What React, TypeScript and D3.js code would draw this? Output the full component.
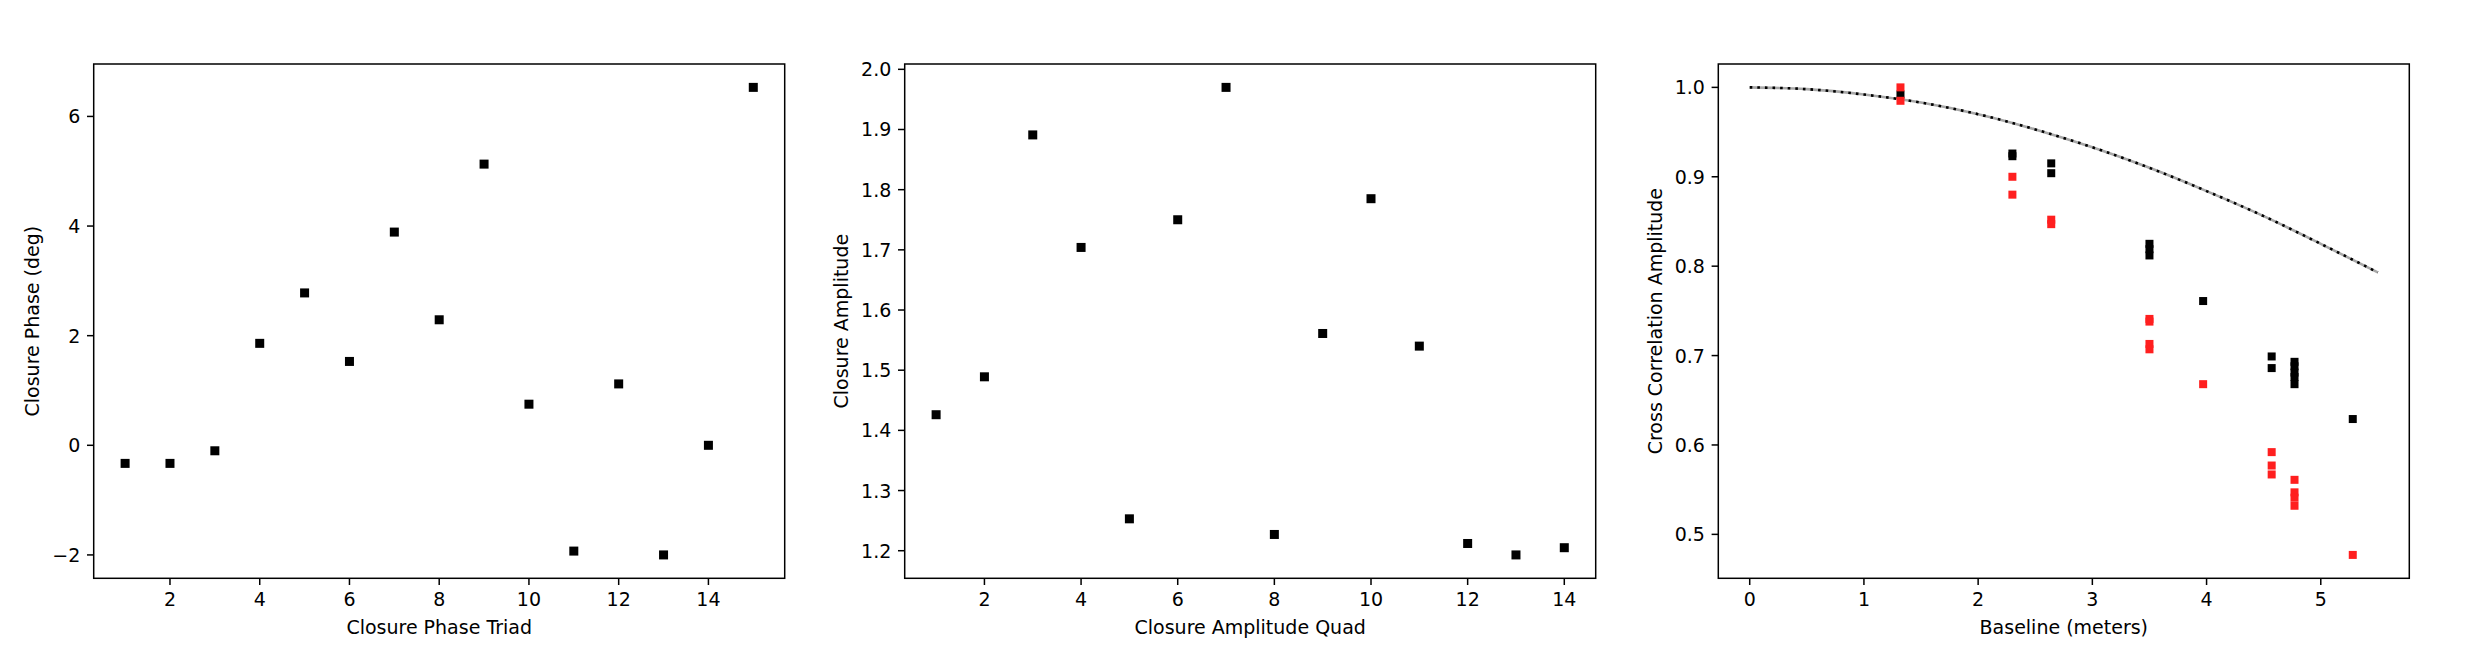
import React from "react"
import * as d3 from "d3"

// closure phase per triad
const triads = [1, 2, 3, 4, 5, 6, 7, 8, 9, 10, 11, 12, 13, 14, 15]
const closurePhase = [-0.33, -0.33, -0.1, 1.86, 2.78, 1.53, 3.89, 2.29, 5.13, 0.75, -1.93, 1.12, -2.0, 0.0, 6.53]
const phaseTicksX = [2, 4, 6, 8, 10, 12, 14]
const phaseTicksY = [-2, 0, 2, 4, 6]

// closure amplitude per quad
const quads = [1, 2, 3, 4, 5, 6, 7, 8, 9, 10, 11, 12, 13, 14]
const closureAmp = [1.426, 1.489, 1.891, 1.704, 1.253, 1.75, 1.97, 1.227, 1.561, 1.785, 1.54, 1.212, 1.193, 1.205]
const ampTicksX = [2, 4, 6, 8, 10, 12, 14]
const ampTicksY = [1.2, 1.3, 1.4, 1.5, 1.6, 1.7, 1.8, 1.9, 2.0]

// cross correlation vs baseline
const blackBase = [1.32, 2.3, 2.3, 2.64, 2.64, 3.5, 3.5, 3.5, 3.97, 4.57, 4.57, 4.77, 4.77, 4.77, 4.77, 4.77, 5.28]
const blackCorr = [0.992, 0.926, 0.923, 0.915, 0.904, 0.825, 0.819, 0.812, 0.761, 0.699, 0.686, 0.693, 0.688, 0.681, 0.676, 0.668, 0.629]
const redBase = [1.32, 1.32, 2.3, 2.3, 2.64, 2.64, 3.5, 3.5, 3.5, 3.5, 3.97, 4.57, 4.57, 4.57, 4.77, 4.77, 4.77, 4.77, 5.28]
const redCorr = [1.0, 0.985, 0.9, 0.88, 0.852, 0.847, 0.741, 0.738, 0.713, 0.707, 0.668, 0.592, 0.577, 0.567, 0.561, 0.547, 0.541, 0.532, 0.477]
const modelBase = [0, 0.5, 1, 1.5, 2, 2.5, 3, 3.5, 4, 4.5, 5, 5.5]
const modelCorr = [1.0, 0.998, 0.992, 0.983, 0.97, 0.953, 0.933, 0.91, 0.884, 0.856, 0.825, 0.793]
const corrTicksX = [0, 1, 2, 3, 4, 5]
const corrTicksY = [0.5, 0.6, 0.7, 0.8, 0.9, 1.0]

const W = 2475
const H = 672
const TOP = 64
const BOTTOM = 578.3
const PW = 691
const FONT = "DejaVu Sans"
const FS = 19
const TICK = 6.7

function padded( vals: number[] ): [number, number] {
  const [a, b] = d3.extent( vals ) as [number, number]
  const m = ( b - a ) * 0.05
  return [a - m, b + m]
}

const minus = ( d: number ) => ( d < 0 ? "\u2212" + Math.abs( d ) : String( d ) )
const oneDec = d3.format( ".1f" )

type Series = { xs: number[]; ys: number[]; color: string }

function Panel( props: {
  left: number
  series: Series[]
  curve?: { xs: number[]; ys: number[] }
  xTicks: number[]
  yTicks: number[]
  fmtX: ( d: number ) => string
  fmtY: ( d: number ) => string
  xLabel: string
  yLabel: string
  yLabelOff: number
  ms: number
} ) {
  const { left, series, curve, xTicks, yTicks, fmtX, fmtY, xLabel, yLabel, yLabelOff, ms } = props
  const allX = series.flatMap( s => s.xs ).concat( curve ? curve.xs : [] )
  const allY = series.flatMap( s => s.ys ).concat( curve ? curve.ys : [] )
  const x = d3.scaleLinear().domain( padded( allX ) ).range( [left, left + PW] )
  const y = d3.scaleLinear().domain( padded( allY ) ).range( [BOTTOM, TOP] )
  const line = d3
    .line<number>()
    .x( ( d, i ) => x( curve!.xs[i] ) )
    .y( d => y( d ) )
    .curve( d3.curveMonotoneX )

  return (
    <g fontFamily={FONT} fontSize={FS} fill="#000">
      {curve && (
        <g fill="none">
          <path d={line( curve.ys ) || ""} stroke="#a8a8a8" strokeWidth={2.6} />
          <path d={line( curve.ys ) || ""} stroke="#000" strokeWidth={2.6} strokeDasharray="2.6,5" />
        </g>
      )}
      {series.map( ( s, si ) => (
        <g key={si} fill={s.color}>
          {s.xs.map( ( v, i ) => (
            <rect key={i} x={x( v ) - ms / 2} y={y( s.ys[i] ) - ms / 2} width={ms} height={ms} />
          ) )}
        </g>
      ) )}
      <rect x={left} y={TOP} width={PW} height={BOTTOM - TOP} fill="none" stroke="#000" strokeWidth={1.5} />
      {xTicks.map( t => (
        <g key={"x" + t}>
          <line x1={x( t )} x2={x( t )} y1={BOTTOM} y2={BOTTOM + TICK} stroke="#000" strokeWidth={1.5} />
          <text x={x( t )} y={BOTTOM + 28} textAnchor="middle">
            {fmtX( t )}
          </text>
        </g>
      ) )}
      {yTicks.map( t => (
        <g key={"y" + t}>
          <line x1={left - TICK} x2={left} y1={y( t )} y2={y( t )} stroke="#000" strokeWidth={1.5} />
          <text x={left - 13.4} y={y( t ) + 7} textAnchor="end">
            {fmtY( t )}
          </text>
        </g>
      ) )}
      <text x={left + PW / 2} y={BOTTOM + 56} textAnchor="middle">
        {xLabel}
      </text>
      <text
        transform={`translate(${left - yLabelOff},${( TOP + BOTTOM ) / 2}) rotate(-90)`}
        textAnchor="middle"
      >
        {yLabel}
      </text>
    </g>
  )
}

export default function App() {
  return (
    <svg width={W} height={H} style={{ position: "absolute", left: 0, top: 0, background: "#fff" }}>
      <rect width={W} height={H} fill="#fff" />
      <Panel
        left={93.7}
        series={[{ xs: triads, ys: closurePhase, color: "#000" }]}
        xTicks={phaseTicksX}
        yTicks={phaseTicksY}
        fmtX={String}
        fmtY={minus}
        xLabel="Closure Phase Triad"
        yLabel="Closure Phase (deg)"
        yLabelOff={54.5}
        ms={9}
      />
      <Panel
        left={904.7}
        series={[{ xs: quads, ys: closureAmp, color: "#000" }]}
        xTicks={ampTicksX}
        yTicks={ampTicksY}
        fmtX={String}
        fmtY={oneDec}
        xLabel="Closure Amplitude Quad"
        yLabel="Closure Amplitude"
        yLabelOff={56.7}
        ms={9}
      />
      <Panel
        left={1718.3}
        series={[
          { xs: blackBase, ys: blackCorr, color: "#000" },
          { xs: redBase, ys: redCorr, color: "#ff1f1f" }
        ]}
        curve={{ xs: modelBase, ys: modelCorr }}
        xTicks={corrTicksX}
        yTicks={corrTicksY}
        fmtX={String}
        fmtY={oneDec}
        xLabel="Baseline (meters)"
        yLabel="Cross Correlation Amplitude"
        yLabelOff={56.7}
        ms={8}
      />
    </svg>
  )
}
